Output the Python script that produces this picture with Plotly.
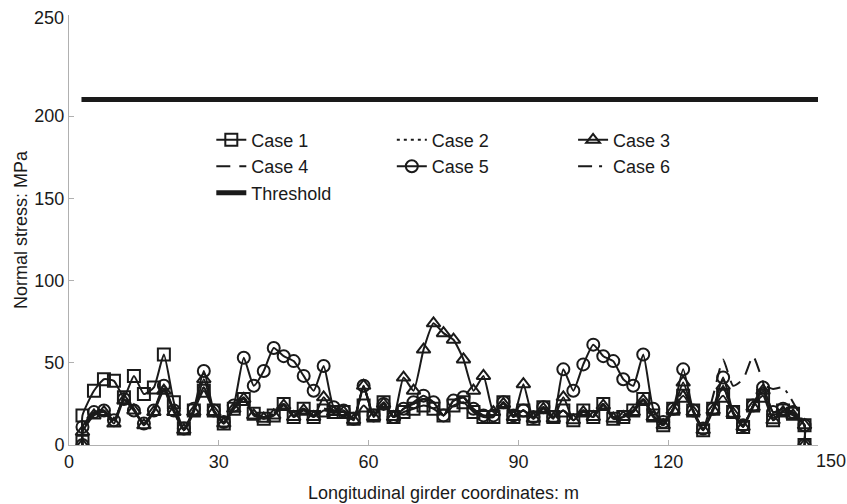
import plotly.graph_objects as go

# x positions (m)
x = [2.7, 2.7, 5, 7, 9, 11, 13, 15, 17, 19, 21, 23, 25, 27, 29, 31, 33, 35, 37, 39,
     41, 43, 45, 47, 49, 51, 53, 55, 57, 59, 61, 63, 65, 67, 69, 71, 73, 75, 77, 79,
     81, 83, 85, 87, 89, 91, 93, 95, 97, 99, 101, 103, 105, 107, 109, 111, 113, 115, 117, 119,
     121, 123, 125, 127, 129, 131, 133, 135, 137, 139, 141, 143, 145, 147.3, 147.3]

case1 = [2, 18, 33, 40, 39, 29, 42, 31, 35, 55, 26, 10, 21, 33, 21, 13, 22, 28, 19, 16,
         18, 25, 17, 22, 17, 21, 20, 20, 16, 24, 18, 26, 17, 20, 22, 24, 22, 18, 24, 26,
         20, 17, 17, 26, 17, 21, 16, 23, 17, 21, 15, 21, 17, 25, 16, 17, 21, 28, 18, 12,
         22, 30, 21, 9, 22, 30, 20, 11, 24, 30, 15, 21, 19, 12, 0]
case2 = [0, 9, 19, 21, 14, 29, 22, 13, 21, 34, 21, 9, 21, 35, 21, 14, 23, 29, 19, 17,
         19, 25, 18, 22, 18, 22, 21, 21, 16, 35, 18, 26, 17, 22, 25, 28, 26, 18, 27, 29,
         21, 18, 18, 26, 18, 21, 17, 23, 17, 21, 16, 21, 18, 25, 17, 18, 21, 28, 18, 13,
         22, 33, 21, 10, 22, 35, 20, 12, 24, 32, 16, 21, 19, 12, 0]
case3 = [0, 8, 18, 20, 13, 27, 21, 12, 20, 33, 20, 9, 20, 40, 20, 13, 22, 28, 18, 16,
         18, 24, 17, 21, 17, 29, 20, 20, 15, 36, 17, 25, 17, 41, 33, 58, 74, 68, 64, 52,
         33, 42, 20, 25, 17, 37, 16, 22, 16, 29, 15, 20, 17, 24, 16, 17, 20, 27, 17, 12,
         21, 38, 20, 9, 21, 36, 19, 11, 23, 33, 15, 20, 18, 12, 0]
case4 = [0, 9, 19, 21, 14, 29, 22, 13, 21, 34, 21, 9, 21, 35, 21, 14, 23, 29, 19, 17,
         19, 25, 18, 22, 18, 22, 21, 21, 16, 35, 18, 26, 17, 22, 25, 28, 26, 18, 27, 29,
         21, 18, 18, 26, 18, 21, 17, 23, 17, 21, 16, 21, 18, 25, 17, 18, 21, 28, 18, 13,
         22, 33, 21, 10, 30, 52, 36, 40, 54, 38, 20, 21, 19, 12, 0]
case5 = [0, 11, 20, 21, 15, 28, 21, 13, 21, 36, 21, 10, 22, 45, 21, 14, 24, 53, 36, 45,
         59, 54, 51, 42, 33, 48, 23, 21, 16, 36, 18, 25, 17, 22, 26, 30, 26, 18, 27, 29,
         22, 18, 18, 26, 18, 21, 17, 23, 17, 46, 33, 49, 61, 54, 51, 40, 36, 55, 22, 14,
         22, 46, 21, 10, 22, 41, 20, 12, 24, 35, 20, 22, 20, 12, 0]
case6 = [0, 9, 19, 21, 14, 29, 22, 13, 21, 34, 21, 9, 21, 35, 21, 14, 23, 29, 19, 17,
         19, 25, 18, 22, 18, 22, 21, 21, 16, 35, 18, 26, 17, 22, 25, 28, 26, 18, 27, 29,
         21, 18, 18, 26, 18, 21, 17, 23, 17, 21, 16, 21, 18, 25, 17, 18, 21, 28, 18, 13,
         22, 33, 21, 10, 22, 35, 20, 12, 24, 36, 34, 35, 26, 12, 0]

threshold_x = [2.5, 150]
threshold_y = [210, 210]

x_ticks = [0, 30, 60, 90, 120]
y_ticks = [0, 50, 100, 150, 200]

INK = "#1a1a1a"
FONT = "Liberation Sans, Arial, sans-serif"

fig = go.Figure()

def add_case(name, ys, dash, symbol, size, legend, rank):
    kw = dict(x=x, y=ys, name=name, legend=legend, legendgroup=name, legendrank=rank,
              line=dict(color=INK, width=2, dash=dash, shape="spline", smoothing=0.5))
    if symbol:
        kw["mode"] = "lines+markers"
        kw["marker"] = dict(symbol=symbol, size=size, color="rgba(0,0,0,0)",
                            line=dict(color=INK, width=2))
    else:
        kw["mode"] = "lines"
    fig.add_trace(go.Scatter(**kw))

add_case("Case 2", case2, "3px,4px", None, 0, "legend2", 1)
add_case("Case 4", case4, "14px,9px", None, 0, "legend", 2)
add_case("Case 6", case6, "14px,7px,3px,7px", None, 0, "legend3", 2)
add_case("Case 5", case5, "solid", "circle", 12, "legend2", 2)
add_case("Case 3", case3, "solid", "triangle-up", 12, "legend3", 1)
add_case("Case 1", case1, "solid", "square", 12, "legend", 1)

fig.add_trace(go.Scatter(x=threshold_x, y=threshold_y, mode="lines", name="Threshold",
                         legend="legend", legendgroup="Threshold", legendrank=3,
                         line=dict(color=INK, width=5)))

legend_common = dict(font=dict(family=FONT, size=18, color=INK), bgcolor="rgba(0,0,0,0)",
                     yanchor="top", xanchor="left", tracegroupgap=3,
                     traceorder="normal", orientation="v")

fig.update_layout(
    width=847, height=504,
    margin=dict(l=69, r=29, t=15, b=59),
    paper_bgcolor="white", plot_bgcolor="white",
    font=dict(family=FONT, size=18, color=INK),
    legend=dict(x=0.19, y=0.752, **legend_common),
    legend2=dict(x=0.431, y=0.752, **legend_common),
    legend3=dict(x=0.673, y=0.752, **legend_common),
    xaxis=dict(range=[0, 150], tickvals=x_ticks, ticktext=[str(v) for v in x_ticks],
               showgrid=False, zeroline=False, showline=True, linecolor="#b0b0b0",
               linewidth=1, ticks="inside", ticklen=5, tickcolor="#b0b0b0",
               tickfont=dict(size=18, color=INK), automargin=False,
               title=dict(text="Longitudinal girder coordinates: m",
                          font=dict(size=18, color=INK))),
    yaxis=dict(range=[0, 261.4], tickvals=y_ticks, ticktext=[str(v) for v in y_ticks],
               showgrid=False, zeroline=False, showline=True, linecolor="#b0b0b0",
               linewidth=1, ticks="inside", ticklen=5, tickcolor="#b0b0b0",
               tickfont=dict(size=18, color=INK), automargin=False,
               title=dict(text="Normal stress: MPa", font=dict(size=18, color=INK),
                          standoff=2)),
    showlegend=True,
)

# end-of-axis labels drawn offset as in the original
fig.add_annotation(x=150, y=0, xref="x", yref="y", text="150", showarrow=False,
                   xanchor="left", yanchor="top", xshift=-4, yshift=-4,
                   font=dict(family=FONT, size=18, color=INK))
fig.add_annotation(x=0, y=1, xref="x", yref="paper", text="250", showarrow=False,
                   xanchor="right", yanchor="middle", xshift=-3, yshift=-3,
                   font=dict(family=FONT, size=18, color=INK))

fig.write_html("out.html")
